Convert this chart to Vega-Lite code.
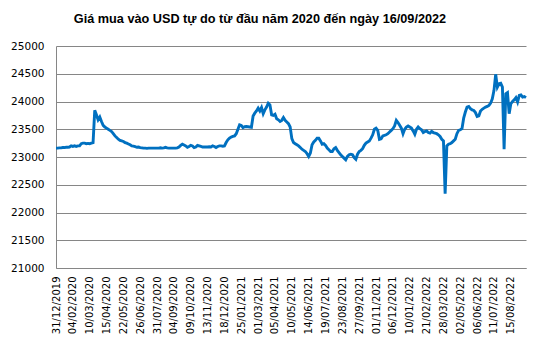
{
  "$schema": "https://vega.github.io/schema/vega-lite/v6.json",
  "width": 470,
  "height": 222,
  "autosize": {"type": "none"},
  "padding": {"left": 56, "top": 46, "right": 14, "bottom": 86},
  "background": "white",
  "title": {
    "text": "Giá mua vào USD tự do từ đầu năm 2020  đến ngày 16/09/2022",
    "font": "Liberation Sans",
    "fontSize": 12.7,
    "fontWeight": "bold",
    "color": "#000000",
    "anchor": "middle",
    "frame": "group",
    "dx": -31,
    "offset": 5,
    "baseline": "alphabetic"
  },
  "data": {
    "values": [
      {"d": "31/12/2019", "v": 23160}, {"d": "03/01/2020", "v": 23160}, {"d": "07/01/2020", "v": 23165}, {"d": "10/01/2020", "v": 23165}, {"d": "14/01/2020", "v": 23170}, {"d": "17/01/2020", "v": 23170}, {"d": "21/01/2020", "v": 23175}, {"d": "24/01/2020", "v": 23175}, {"d": "28/01/2020", "v": 23180}, {"d": "31/01/2020", "v": 23200},
      {"d": "04/02/2020", "v": 23190}, {"d": "07/02/2020", "v": 23200}, {"d": "11/02/2020", "v": 23190}, {"d": "14/02/2020", "v": 23200}, {"d": "18/02/2020", "v": 23200}, {"d": "21/02/2020", "v": 23240}, {"d": "25/02/2020", "v": 23250}, {"d": "28/02/2020", "v": 23250}, {"d": "03/03/2020", "v": 23240}, {"d": "06/03/2020", "v": 23245},
      {"d": "10/03/2020", "v": 23240}, {"d": "13/03/2020", "v": 23250}, {"d": "17/03/2020", "v": 23260}, {"d": "20/03/2020", "v": 23840}, {"d": "24/03/2020", "v": 23760}, {"d": "27/03/2020", "v": 23670}, {"d": "31/03/2020", "v": 23720}, {"d": "03/04/2020", "v": 23640}, {"d": "07/04/2020", "v": 23570}, {"d": "10/04/2020", "v": 23540},
      {"d": "15/04/2020", "v": 23520}, {"d": "18/04/2020", "v": 23500}, {"d": "22/04/2020", "v": 23480}, {"d": "25/04/2020", "v": 23460}, {"d": "29/04/2020", "v": 23420}, {"d": "02/05/2020", "v": 23380}, {"d": "06/05/2020", "v": 23350}, {"d": "09/05/2020", "v": 23320}, {"d": "13/05/2020", "v": 23300}, {"d": "16/05/2020", "v": 23290},
      {"d": "22/05/2020", "v": 23280}, {"d": "25/05/2020", "v": 23260}, {"d": "29/05/2020", "v": 23250}, {"d": "01/06/2020", "v": 23235}, {"d": "05/06/2020", "v": 23220}, {"d": "08/06/2020", "v": 23200}, {"d": "12/06/2020", "v": 23195}, {"d": "15/06/2020", "v": 23185}, {"d": "19/06/2020", "v": 23175}, {"d": "22/06/2020", "v": 23180},
      {"d": "26/06/2020", "v": 23170}, {"d": "29/06/2020", "v": 23165}, {"d": "03/07/2020", "v": 23160}, {"d": "06/07/2020", "v": 23160}, {"d": "10/07/2020", "v": 23155}, {"d": "13/07/2020", "v": 23160}, {"d": "17/07/2020", "v": 23160}, {"d": "20/07/2020", "v": 23160}, {"d": "24/07/2020", "v": 23160}, {"d": "27/07/2020", "v": 23160},
      {"d": "31/07/2020", "v": 23160}, {"d": "03/08/2020", "v": 23160}, {"d": "07/08/2020", "v": 23165}, {"d": "10/08/2020", "v": 23160}, {"d": "14/08/2020", "v": 23165}, {"d": "17/08/2020", "v": 23175}, {"d": "21/08/2020", "v": 23165}, {"d": "24/08/2020", "v": 23160}, {"d": "28/08/2020", "v": 23160}, {"d": "31/08/2020", "v": 23160},
      {"d": "04/09/2020", "v": 23160}, {"d": "07/09/2020", "v": 23160}, {"d": "11/09/2020", "v": 23165}, {"d": "14/09/2020", "v": 23180}, {"d": "18/09/2020", "v": 23210}, {"d": "21/09/2020", "v": 23230}, {"d": "25/09/2020", "v": 23215}, {"d": "28/09/2020", "v": 23200}, {"d": "02/10/2020", "v": 23175}, {"d": "05/10/2020", "v": 23190},
      {"d": "09/10/2020", "v": 23210}, {"d": "12/10/2020", "v": 23200}, {"d": "16/10/2020", "v": 23170}, {"d": "19/10/2020", "v": 23180}, {"d": "23/10/2020", "v": 23210}, {"d": "26/10/2020", "v": 23200}, {"d": "30/10/2020", "v": 23190}, {"d": "02/11/2020", "v": 23180}, {"d": "06/11/2020", "v": 23180}, {"d": "09/11/2020", "v": 23180},
      {"d": "13/11/2020", "v": 23180}, {"d": "16/11/2020", "v": 23185}, {"d": "20/11/2020", "v": 23180}, {"d": "23/11/2020", "v": 23200}, {"d": "27/11/2020", "v": 23190}, {"d": "30/11/2020", "v": 23170}, {"d": "04/12/2020", "v": 23190}, {"d": "07/12/2020", "v": 23200}, {"d": "11/12/2020", "v": 23200}, {"d": "14/12/2020", "v": 23195},
      {"d": "18/12/2020", "v": 23200}, {"d": "21/12/2020", "v": 23260}, {"d": "25/12/2020", "v": 23310}, {"d": "28/12/2020", "v": 23340}, {"d": "01/01/2021", "v": 23360}, {"d": "04/01/2021", "v": 23370}, {"d": "08/01/2021", "v": 23380}, {"d": "11/01/2021", "v": 23420}, {"d": "15/01/2021", "v": 23500}, {"d": "18/01/2021", "v": 23580},
      {"d": "25/01/2021", "v": 23570}, {"d": "28/01/2021", "v": 23530}, {"d": "01/02/2021", "v": 23545}, {"d": "04/02/2021", "v": 23550}, {"d": "08/02/2021", "v": 23545}, {"d": "11/02/2021", "v": 23540}, {"d": "15/02/2021", "v": 23535}, {"d": "18/02/2021", "v": 23740}, {"d": "22/02/2021", "v": 23790}, {"d": "25/02/2021", "v": 23830},
      {"d": "01/03/2021", "v": 23880}, {"d": "04/03/2021", "v": 23830}, {"d": "08/03/2021", "v": 23890}, {"d": "11/03/2021", "v": 23780}, {"d": "15/03/2021", "v": 23850}, {"d": "18/03/2021", "v": 23900}, {"d": "22/03/2021", "v": 23970}, {"d": "25/03/2021", "v": 23940}, {"d": "29/03/2021", "v": 23760}, {"d": "01/04/2021", "v": 23750},
      {"d": "05/04/2021", "v": 23770}, {"d": "08/04/2021", "v": 23690}, {"d": "12/04/2021", "v": 23670}, {"d": "15/04/2021", "v": 23640}, {"d": "19/04/2021", "v": 23660}, {"d": "22/04/2021", "v": 23710}, {"d": "26/04/2021", "v": 23660}, {"d": "29/04/2021", "v": 23630}, {"d": "03/05/2021", "v": 23600}, {"d": "06/05/2021", "v": 23540},
      {"d": "10/05/2021", "v": 23330}, {"d": "13/05/2021", "v": 23260}, {"d": "17/05/2021", "v": 23240}, {"d": "20/05/2021", "v": 23220}, {"d": "24/05/2021", "v": 23200}, {"d": "27/05/2021", "v": 23170}, {"d": "31/05/2021", "v": 23140}, {"d": "03/06/2021", "v": 23120}, {"d": "07/06/2021", "v": 23100}, {"d": "10/06/2021", "v": 23060},
      {"d": "14/06/2021", "v": 23010}, {"d": "17/06/2021", "v": 23070}, {"d": "21/06/2021", "v": 23220}, {"d": "24/06/2021", "v": 23270}, {"d": "28/06/2021", "v": 23300}, {"d": "01/07/2021", "v": 23340}, {"d": "05/07/2021", "v": 23340}, {"d": "08/07/2021", "v": 23290}, {"d": "12/07/2021", "v": 23230}, {"d": "15/07/2021", "v": 23240},
      {"d": "19/07/2021", "v": 23210}, {"d": "22/07/2021", "v": 23160}, {"d": "26/07/2021", "v": 23130}, {"d": "29/07/2021", "v": 23100}, {"d": "02/08/2021", "v": 23100}, {"d": "05/08/2021", "v": 23150}, {"d": "09/08/2021", "v": 23170}, {"d": "12/08/2021", "v": 23120}, {"d": "16/08/2021", "v": 23080}, {"d": "19/08/2021", "v": 23040},
      {"d": "23/08/2021", "v": 23010}, {"d": "26/08/2021", "v": 22980}, {"d": "30/08/2021", "v": 22950}, {"d": "02/09/2021", "v": 23010}, {"d": "06/09/2021", "v": 23040}, {"d": "09/09/2021", "v": 23050}, {"d": "13/09/2021", "v": 23040}, {"d": "16/09/2021", "v": 22990}, {"d": "20/09/2021", "v": 22960}, {"d": "23/09/2021", "v": 23050},
      {"d": "27/09/2021", "v": 23100}, {"d": "30/09/2021", "v": 23120}, {"d": "04/10/2021", "v": 23150}, {"d": "07/10/2021", "v": 23210}, {"d": "11/10/2021", "v": 23250}, {"d": "14/10/2021", "v": 23270}, {"d": "18/10/2021", "v": 23290}, {"d": "21/10/2021", "v": 23340}, {"d": "25/10/2021", "v": 23400}, {"d": "28/10/2021", "v": 23500},
      {"d": "01/11/2021", "v": 23520}, {"d": "04/11/2021", "v": 23480}, {"d": "08/11/2021", "v": 23320}, {"d": "11/11/2021", "v": 23330}, {"d": "15/11/2021", "v": 23380}, {"d": "18/11/2021", "v": 23390}, {"d": "22/11/2021", "v": 23400}, {"d": "25/11/2021", "v": 23420}, {"d": "29/11/2021", "v": 23450}, {"d": "02/12/2021", "v": 23480},
      {"d": "06/12/2021", "v": 23510}, {"d": "09/12/2021", "v": 23560}, {"d": "13/12/2021", "v": 23660}, {"d": "16/12/2021", "v": 23620}, {"d": "20/12/2021", "v": 23570}, {"d": "23/12/2021", "v": 23520}, {"d": "27/12/2021", "v": 23420}, {"d": "30/12/2021", "v": 23500}, {"d": "03/01/2022", "v": 23540}, {"d": "06/01/2022", "v": 23560},
      {"d": "10/01/2022", "v": 23540}, {"d": "14/01/2022", "v": 23520}, {"d": "18/01/2022", "v": 23470}, {"d": "21/01/2022", "v": 23410}, {"d": "25/01/2022", "v": 23500}, {"d": "28/01/2022", "v": 23540}, {"d": "08/02/2022", "v": 23510}, {"d": "11/02/2022", "v": 23490}, {"d": "15/02/2022", "v": 23440}, {"d": "18/02/2022", "v": 23460},
      {"d": "21/02/2022", "v": 23470}, {"d": "24/02/2022", "v": 23440}, {"d": "28/02/2022", "v": 23430}, {"d": "03/03/2022", "v": 23460}, {"d": "07/03/2022", "v": 23440}, {"d": "10/03/2022", "v": 23430}, {"d": "14/03/2022", "v": 23420}, {"d": "17/03/2022", "v": 23400}, {"d": "21/03/2022", "v": 23370}, {"d": "24/03/2022", "v": 23320},
      {"d": "28/03/2022", "v": 23290}, {"d": "31/03/2022", "v": 22340}, {"d": "04/04/2022", "v": 23200}, {"d": "07/04/2022", "v": 23230}, {"d": "11/04/2022", "v": 23240}, {"d": "14/04/2022", "v": 23260}, {"d": "18/04/2022", "v": 23290}, {"d": "21/04/2022", "v": 23320}, {"d": "25/04/2022", "v": 23420}, {"d": "28/04/2022", "v": 23480},
      {"d": "02/05/2022", "v": 23490}, {"d": "05/05/2022", "v": 23510}, {"d": "09/05/2022", "v": 23700}, {"d": "12/05/2022", "v": 23810}, {"d": "16/05/2022", "v": 23900}, {"d": "19/05/2022", "v": 23910}, {"d": "23/05/2022", "v": 23870}, {"d": "26/05/2022", "v": 23850}, {"d": "30/05/2022", "v": 23840}, {"d": "02/06/2022", "v": 23800},
      {"d": "06/06/2022", "v": 23730}, {"d": "09/06/2022", "v": 23740}, {"d": "13/06/2022", "v": 23830}, {"d": "16/06/2022", "v": 23860}, {"d": "20/06/2022", "v": 23880}, {"d": "23/06/2022", "v": 23900}, {"d": "27/06/2022", "v": 23910}, {"d": "30/06/2022", "v": 23930}, {"d": "04/07/2022", "v": 23970}, {"d": "07/07/2022", "v": 24050},
      {"d": "11/07/2022", "v": 24200}, {"d": "14/07/2022", "v": 24490}, {"d": "18/07/2022", "v": 24260}, {"d": "21/07/2022", "v": 24320}, {"d": "25/07/2022", "v": 24330}, {"d": "28/07/2022", "v": 24260}, {"d": "01/08/2022", "v": 23140}, {"d": "04/08/2022", "v": 24140}, {"d": "08/08/2022", "v": 24160}, {"d": "11/08/2022", "v": 23780},
      {"d": "15/08/2022", "v": 23960}, {"d": "18/08/2022", "v": 24000}, {"d": "22/08/2022", "v": 24030}, {"d": "25/08/2022", "v": 24070}, {"d": "29/08/2022", "v": 23990}, {"d": "01/09/2022", "v": 24110}, {"d": "05/09/2022", "v": 24120}, {"d": "08/09/2022", "v": 24080}, {"d": "12/09/2022", "v": 24090}, {"d": "16/09/2022", "v": 24070}
    ]
  },
  "mark": {"type": "line", "color": "#0070C0", "strokeWidth": 2.9},
  "encoding": {
    "x": {
      "field": "d",
      "type": "ordinal",
      "sort": null,
      "scale": {"type": "point", "padding": 0},
      "axis": {
        "title": null,
        "values": ["31/12/2019", "04/02/2020", "10/03/2020", "15/04/2020", "22/05/2020", "26/06/2020", "31/07/2020", "04/09/2020", "09/10/2020", "13/11/2020", "18/12/2020", "25/01/2021", "01/03/2021", "05/04/2021", "10/05/2021", "14/06/2021", "19/07/2021", "23/08/2021", "27/09/2021", "01/11/2021", "06/12/2021", "10/01/2022", "21/02/2022", "28/03/2022", "02/05/2022", "06/06/2022", "11/07/2022", "15/08/2022"],
        "labelAngle": -90,
        "labelFont": "DejaVu Sans",
        "labelFontSize": 10,
        "labelColor": "#000000",
        "labelPadding": 8,
        "labelOverlap": false,
        "ticks": false,
        "grid": false,
        "domainColor": "#868686",
        "domainWidth": 1
      }
    },
    "y": {
      "field": "v",
      "type": "quantitative",
      "scale": {"domain": [21000, 25000], "nice": false, "zero": false},
      "axis": {
        "title": null,
        "values": [21000, 21500, 22000, 22500, 23000, 23500, 24000, 24500, 25000],
        "format": "d",
        "labelFont": "DejaVu Sans",
        "labelFontSize": 10.5,
        "labelColor": "#000000",
        "labelPadding": 12,
        "ticks": false,
        "domainColor": "#868686",
        "domainWidth": 1,
        "grid": true,
        "gridColor": "#868686",
        "gridWidth": 1,
        "gridOpacity": 1
      }
    }
  },
  "config": {"view": {"stroke": null}}
}
